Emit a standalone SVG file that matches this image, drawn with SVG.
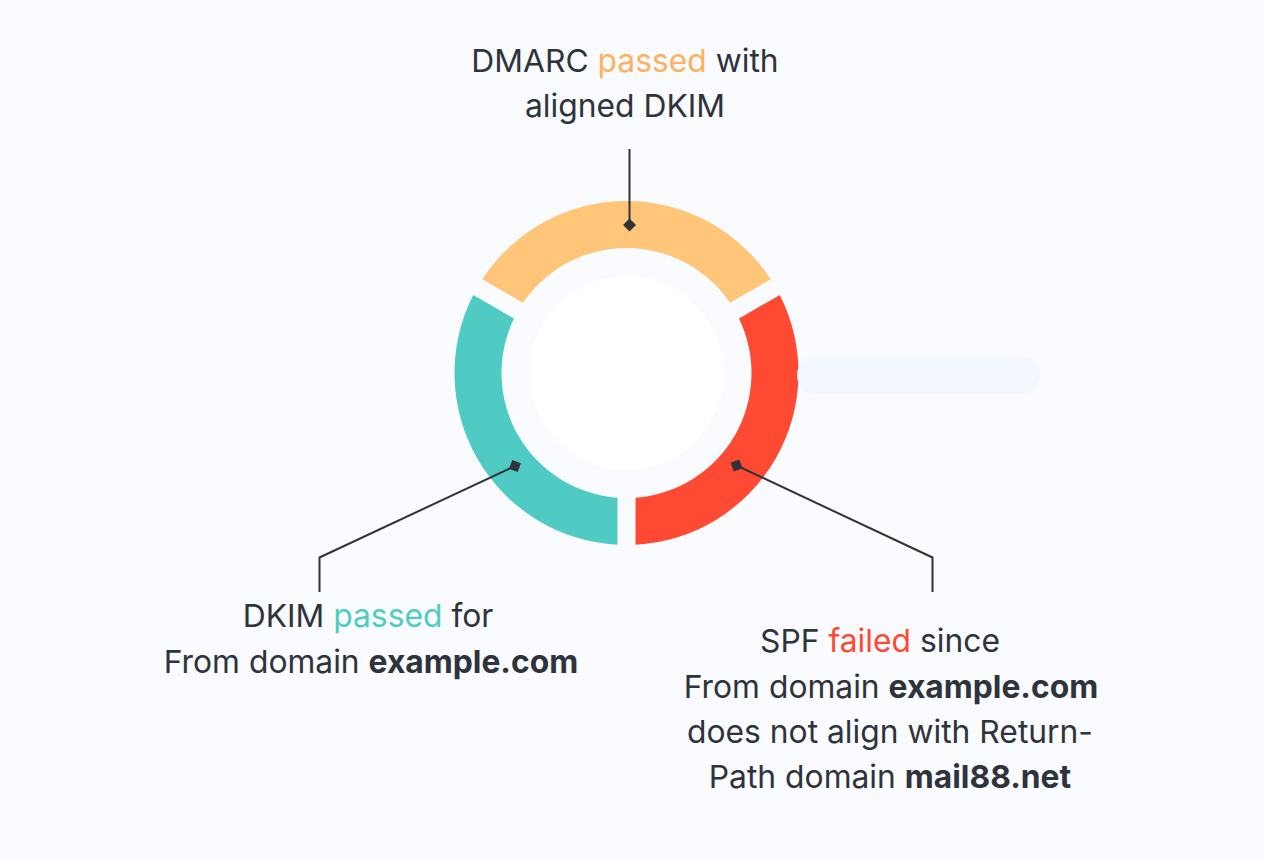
<svg xmlns="http://www.w3.org/2000/svg" width="1264" height="861" viewBox="0 0 1264 861">
<style>
.t{font-family:Inter,"Noto Sans","Liberation Sans",sans-serif;font-size:31.8px;fill:#2f333b;text-anchor:middle}
.b{font-weight:700}
.conn{fill:none;stroke:#2f333b;stroke-width:2}
</style>
<defs>
<marker id="dia" viewBox="-8 -8 16 16" markerWidth="16" markerHeight="16" refX="0" refY="0" orient="auto" markerUnits="userSpaceOnUse">
<path d="M-6.5 0 L0 -6.5 L6.5 0 L0 6.5 Z" fill="#2f333b"/>
</marker>
</defs>
<rect width="1264" height="861" fill="#f9fbff"/>
<g id="ring">
<circle cx="626.5" cy="373" r="97" fill="#ffffff"/>
<path id="seg-dmarc" d="M 482.25 279.32 A 172 172 0 0 1 770.75 279.32 L 729.97 302.86 A 125 125 0 0 0 523.03 302.86 Z" fill="#ffc67a"/>
<path id="seg-spf" d="M 779.75 294.91 A 172 172 0 0 1 635.50 544.76 L 635.50 497.68 A 125 125 0 0 0 738.97 318.46 Z" fill="#ff4a33"/>
<path id="seg-dkim" d="M 617.50 544.76 A 172 172 0 0 1 473.25 294.91 L 514.03 318.46 A 125 125 0 0 0 617.50 497.68 Z" fill="#50cbc4"/>
</g>
<g id="bar">
<rect x="797" y="356" width="243" height="38" rx="19" fill="#f3f7fe"/>
</g>
<g id="connectors">
<path class="conn" d="M629.5 149 L629.5 225" marker-end="url(#dia)"/>
<path class="conn" d="M319.5 592 L319.5 557.5 L515 466" marker-end="url(#dia)"/>
<path class="conn" d="M932.5 592 L932.5 557.5 L736.5 465.5" marker-end="url(#dia)"/>
</g>
<g id="label-dmarc">
<text class="t" x="625" y="72">DMARC <tspan fill="#ffb061">passed</tspan> with</text>
<text class="t" x="625" y="117">aligned DKIM</text>
</g>
<g id="label-dkim">
<text class="t" x="368" y="627">DKIM <tspan fill="#4ecdc4">passed</tspan> for</text>
<text class="t" x="371" y="673">From domain <tspan class="b">example.com</tspan></text>
</g>
<g id="label-spf">
<text class="t" x="880" y="652">SPF <tspan fill="#ff4a33">failed</tspan> since</text>
<text class="t" x="891" y="698">From domain <tspan class="b">example.com</tspan></text>
<text class="t" x="890" y="743">does not align with Return-</text>
<text class="t" x="890" y="788">Path domain <tspan class="b">mail88.net</tspan></text>
</g>
</svg>
